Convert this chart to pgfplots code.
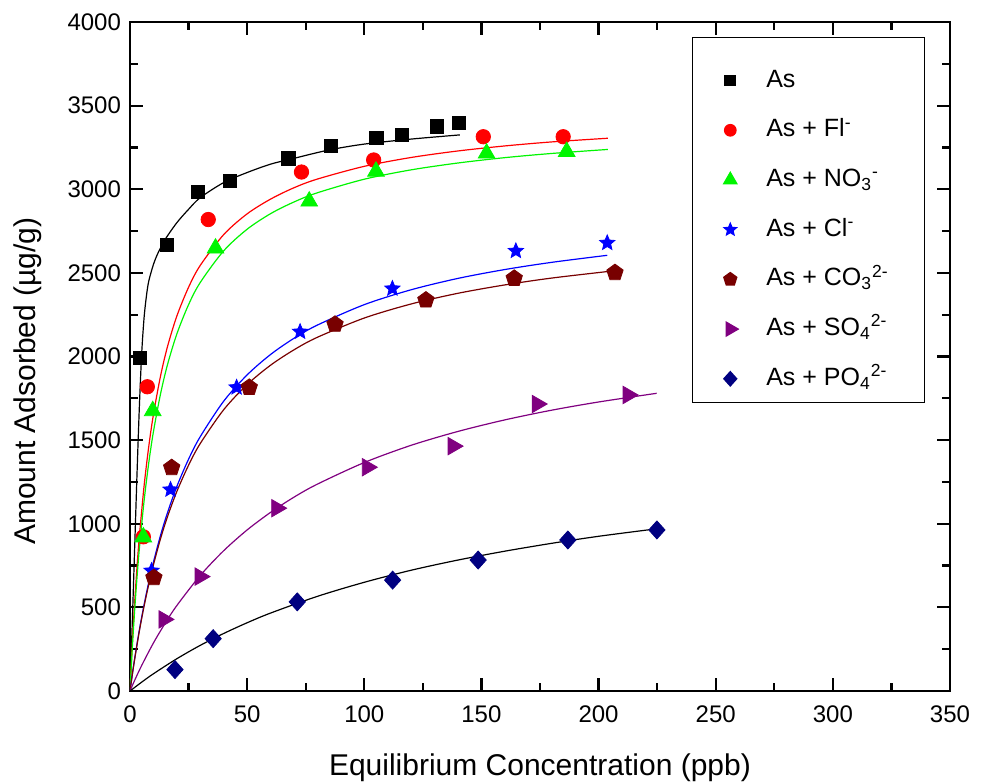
\documentclass[border=0pt]{standalone}
\usepackage{pgfplots}
\pgfplotsset{compat=1.18}
\usepackage{fontspec}
\setmainfont{Liberation Sans}
\usetikzlibrary{plotmarks}
\definecolor{cBlack}{RGB}{0,0,0}
\definecolor{cRed}{RGB}{255,0,0}
\definecolor{cGreen}{RGB}{0,245,0}
\definecolor{cBlue}{RGB}{0,0,255}
\definecolor{cBrown}{RGB}{120,0,0}
\definecolor{cPurple}{RGB}{128,0,128}
\definecolor{cNavy}{RGB}{0,0,128}
\pgfdeclareplotmark{fstar}{%
  \pgfpathmoveto{\pgfpointpolar{90}{\pgfplotmarksize}}%
  \pgfpathlineto{\pgfpointpolar{126}{0.45\pgfplotmarksize}}%
  \pgfpathlineto{\pgfpointpolar{162}{\pgfplotmarksize}}%
  \pgfpathlineto{\pgfpointpolar{198}{0.45\pgfplotmarksize}}%
  \pgfpathlineto{\pgfpointpolar{234}{\pgfplotmarksize}}%
  \pgfpathlineto{\pgfpointpolar{270}{0.45\pgfplotmarksize}}%
  \pgfpathlineto{\pgfpointpolar{306}{\pgfplotmarksize}}%
  \pgfpathlineto{\pgfpointpolar{342}{0.45\pgfplotmarksize}}%
  \pgfpathlineto{\pgfpointpolar{18}{\pgfplotmarksize}}%
  \pgfpathlineto{\pgfpointpolar{54}{0.45\pgfplotmarksize}}%
  \pgfpathclose\pgfusepathqfillstroke}
\newcommand\leg[1]{\makebox[72pt][l]{\rule[-6pt]{0pt}{19pt}#1}}
\pgfplotsset{mylegimg/.style={legend image code/.code={%
     \path[draw=none,fill=none] (0pt,-6pt) -- (26pt,13pt);
     \draw[##1, only marks, every mark/.append style={scale=0.8}] plot coordinates {(13pt,-2.5pt)};}}}
\begin{document}
\begin{tikzpicture}
\path[use as bounding box] (-65pt,-45.5pt) rectangle (426pt,345.5pt);
\begin{axis}[
  scale only axis, width=410pt, height=334.5pt,
  xmin=0, xmax=350, ymin=0, ymax=4000,
  xtick={0,50,...,350}, ytick={0,500,...,4000},
  minor x tick num=1, minor y tick num=1,
  tick align=inside,
  major tick length=6.5pt, minor tick length=4pt,
  axis line style={line width=1.3pt},
  every tick/.style={black, line width=1.1pt},
  /pgf/number format/assume math mode=true,
  /pgf/number format/1000 sep={},
  tick label style={font=\fontsize{12}{14}\selectfont},
  yticklabel style={xshift=-1pt},
  xticklabel style={yshift=-4pt},
  xlabel={Equilibrium Concentration (ppb)},
  ylabel={Amount Adsorbed (µg/g)},
  every axis x label/.style={at={(axis description cs:0.5,0)}, yshift=-38.5pt, anchor=center, font=\fontsize{15}{18}\selectfont},
  every axis y label/.style={at={(axis description cs:0,0.463)}, xshift=-51pt, rotate=90, anchor=center, font=\fontsize{15}{18}\selectfont},
  legend style={at={(axis description cs:0.685,0.9776)}, anchor=north west, draw=black, line width=0.6pt,
    font=\fontsize{12.5}{15}\selectfont, inner xsep=6pt, inner ysep=6pt, row sep=3.6pt, column sep=4pt,
    nodes={inner sep=1pt}},
  legend cell align=left, mylegimg,
]
% fitted curves
\addplot[cBlack, line width=0.6pt, smooth, forget plot] coordinates {
(0,0)(1,420)(2,860)(3,1300)(4,1700)(5,2020)(6,2230)(7,2360)(8,2450)(10,2550)(12,2620)(15,2700)(20,2800)(25,2880)(30,2950)(40,3040)(50,3100)(60,3150)(70,3185)(85,3235)(100,3270)(120,3300)(140.8,3325)};
\addplot[cRed, line width=0.6pt, smooth, forget plot] coordinates {
(0,0)(1,288)(2,533)(3,742)(4,924)(6,1224)(8,1461)(10,1653)(13,1881)(16,2059)(20,2242)(25,2414)(30,2545)(40,2729)(50,2853)(60,2941)(70,3009)(80,3061)(100,3137)(120,3190)(140,3229)(160,3259)(180,3283)(204,3305)};
\addplot[cGreen, line width=0.6pt, smooth, forget plot] coordinates {
(0,0)(1,261)(2,485)(3,680)(4,851)(6,1135)(8,1363)(10,1550)(13,1774)(16,1951)(20,2135)(25,2310)(30,2443)(40,2632)(50,2761)(60,2854)(70,2924)(80,2979)(100,3060)(120,3116)(140,3157)(160,3189)(180,3214)(204,3238)};
\addplot[cBlue, line width=0.6pt, smooth, forget plot] coordinates {
(0,0)(1,100)(2,194)(4,365)(6,515)(8,650)(10,770)(13,929)(16,1066)(20,1223)(25,1386)(30,1521)(40,1733)(50,1890)(60,2012)(70,2109)(80,2188)(100,2310)(120,2399)(140,2467)(160,2520)(180,2563)(203.7,2605)};
\addplot[cBrown, line width=0.6pt, smooth, forget plot] coordinates {
(0,0)(1,99)(2,191)(4,359)(6,506)(8,637)(10,754)(13,909)(16,1042)(20,1193)(25,1350)(30,1480)(40,1682)(50,1832)(60,1948)(70,2040)(80,2115)(100,2230)(120,2314)(140,2378)(160,2428)(180,2469)(207,2513)};
\addplot[cPurple, line width=0.6pt, smooth, forget plot] coordinates {
(0,0)(2,64)(5,153)(10,287)(15,405)(20,511)(30,691)(40,839)(50,963)(60,1068)(70,1159)(80,1237)(100,1366)(120,1469)(140,1552)(160,1621)(180,1679)(200,1728)(224.8,1780)};
\addplot[cBlack, line width=0.6pt, smooth, forget plot] coordinates {
(0,0)(5,53)(10,103)(20,193)(30,273)(40,344)(50,408)(60,466)(80,566)(100,650)(120,722)(140,783)(160,836)(180,883)(200,925)(224.9,970)};
% data
\addplot[only marks, mylegimg, mark=square*, mark size=3.3pt, draw=cBlack, fill=cBlack] coordinates {
(4.3,1990)(15.6,2667)(28.9,2982)(42.7,3049)(67.6,3185)(85.6,3261)(105.2,3305)(115.9,3327)(130.9,3376)(140.5,3399)};
\addlegendentry{\leg{As}}
\addplot[only marks, mylegimg, mark=*, mark size=3.6pt, draw=cRed, fill=cRed] coordinates {
(5.7,922)(7.4,1819)(33.4,2819)(73.2,3103)(104,3175)(150.8,3314)(184.9,3314)};
\addlegendentry{\leg{As + Fl\textsuperscript{-}}}
\addplot[only marks, mylegimg, mark=triangle*, mark size=4.8pt, draw=cGreen, fill=cGreen] coordinates {
(5.7,920)(9.7,1675)(36.5,2647)(76.5,2928)(105,3107)(152.2,3215)(186.4,3225)};
\addlegendentry{\leg{As + NO\textsubscript{3}\textsuperscript{-}}}
\addplot[only marks, mylegimg, mark=fstar, mark size=4pt, draw=cBlue, fill=cBlue] coordinates {
(9.2,719)(17.3,1204)(45.5,1815)(72.6,2148)(112,2406)(164.7,2631)(203.7,2679)};
\addlegendentry{\leg{As + Cl\textsuperscript{-}}}
\addplot[only marks, mylegimg, mark=pentagon*, mark size=4.3pt, draw=cBrown, fill=cBrown] coordinates {
(10.2,677)(17.8,1335)(50.9,1815)(87.5,2192)(126.3,2337)(164,2467)(207,2501)};
\addlegendentry{\leg{As + CO\textsubscript{3}\textsuperscript{2-}}}
\addplot[only marks, mylegimg, mark=triangle*, mark size=5pt, mark options={rotate=-90}, draw=cPurple, fill=cPurple] coordinates {
(14.5,428)(29.9,684)(62.6,1093)(101.3,1338)(137.9,1464)(173.8,1716)(212.6,1770)};
\addlegendentry{\leg{As + SO\textsubscript{4}\textsuperscript{2-}}}
\addplot[only marks, mylegimg, mark=diamond*, mark size=4.5pt, mark options={xscale=1.2}, draw=cNavy, fill=cNavy] coordinates {
(19.2,128)(35.5,313)(71.4,533)(112.1,663)(148.6,783)(186.9,903)(224.9,963)};
\addlegendentry{\leg{As + PO\textsubscript{4}\textsuperscript{2-}}}
\end{axis}
\end{tikzpicture}
\end{document}
